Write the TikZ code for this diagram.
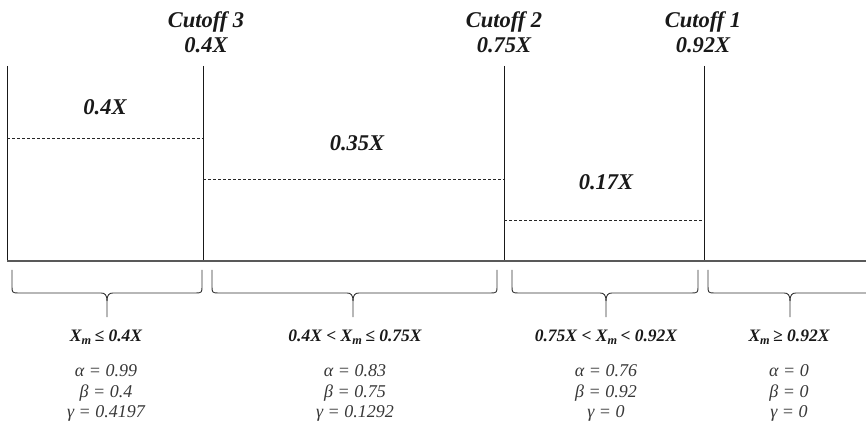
\documentclass[tikz,border=0pt]{standalone}
\usepackage{fontspec}
\setmainfont{Liberation Serif}
\tikzset{
  divider/.style={draw=black!90, line width=0.9pt},
  axis/.style={draw=black!65, line width=1.4pt},
  level/.style={draw=black!85, dash pattern=on 3pt off 2pt, line width=0.7pt},
  bracepath/.style={draw=black!80, line width=0.9pt},
  cutlabel/.style={font=\fontsize{22.5}{24.5}\selectfont\bfseries\itshape, align=center, inner sep=0pt, text=black!90},
  sharelabel/.style={font=\fontsize{22.5}{24}\selectfont\bfseries\itshape, inner sep=0pt, text=black!90},
  rangelabel/.style={font=\fontsize{17.5}{18}\selectfont\bfseries\itshape, inner sep=0pt, text=black!90},
  params/.style={font=\fontsize{18}{20.5}\selectfont\itshape, align=center, inner sep=0pt, text=black!78}
}
% curly bracket under an interval: ends at x=#1 and x=#3, tip at x=#2
\newcommand\intervalbrace[3]{%
  \draw[bracepath] (#1,270) -- (#1,286) .. controls (#1,292) and (#1,293) .. ({#1+6},293)
    -- ({#2-6},293) .. controls ({#2-2},293) and (#2,295) .. (#2,301) -- (#2,317);
  \draw[bracepath] (#3,270) -- (#3,286) .. controls (#3,292) and (#3,293) .. ({#3-6},293)
    -- ({#2+6},293) .. controls ({#2+2},293) and (#2,295) .. (#2,301);
}
\newcommand\Xm{X\textsubscript{m}}
\begin{document}
\begin{tikzpicture}[x=1pt,y=-1pt]
\useasboundingbox (0,0) rectangle (866,427);
\clip (0,0) rectangle (866,427);

% axis and interval boundaries
\coordinate (a0) at (7,261);
\coordinate (a1) at (866,261);
\coordinate (v0t) at (7,66);   \coordinate (v0b) at (7,261);
\coordinate (v3t) at (203,66); \coordinate (v3b) at (203,261);
\coordinate (v2t) at (504,66); \coordinate (v2b) at (504,261);
\coordinate (v1t) at (704,66); \coordinate (v1b) at (704,261);

\draw[divider] (v0t) -- (v0b);
\draw[divider] (v3t) -- (v3b);
\draw[divider] (v2t) -- (v2b);
\draw[divider] (v1t) -- (v1b);
\draw[axis] (a0) -- (a1);

% share levels
\coordinate (l1a) at (7,138);   \coordinate (l1b) at (203,138);
\coordinate (l2a) at (203,179); \coordinate (l2b) at (504,179);
\coordinate (l3a) at (504,220); \coordinate (l3b) at (704,220);
\draw[level] (l1a) -- (l1b);
\draw[level] (l2a) -- (l2b);
\draw[level] (l3a) -- (l3b);

\node[sharelabel] (s1) at (105,107) {0.4X};
\node[sharelabel] (s2) at (357,143) {0.35X};
\node[sharelabel] (s3) at (606,182) {0.17X};

% cutoffs
\node[cutlabel] (c3) at (206,32) {Cutoff 3\\0.4X};
\node[cutlabel] (c2) at (504,32) {Cutoff 2\\0.75X};
\node[cutlabel] (c1) at (703,32) {Cutoff 1\\0.92X};

% interval braces
\intervalbrace{12}{107}{202}
\intervalbrace{212}{353}{497}
\intervalbrace{512}{606}{698}
\intervalbrace{708}{790}{872}

% interval conditions
\node[rangelabel] (r1) at (106,337) {\Xm\,≤ 0.4X};
\node[rangelabel] (r2) at (355,337) {0.4X < \Xm\,≤ 0.75X};
\node[rangelabel] (r3) at (606,337) {0.75X < \Xm\,< 0.92X};
\node[rangelabel] (r4) at (789,337) {\Xm\,≥ 0.92X};

% parameters
\node[params] (p1) at (106,393) {α = 0.99\\β = 0.4\\γ = 0.4197};
\node[params] (p2) at (355,393) {α = 0.83\\β = 0.75\\γ = 0.1292};
\node[params] (p3) at (606,393) {α = 0.76\\β = 0.92\\γ = 0};
\node[params] (p4) at (789,393) {α = 0\\β = 0\\γ = 0};
\end{tikzpicture}
\end{document}
